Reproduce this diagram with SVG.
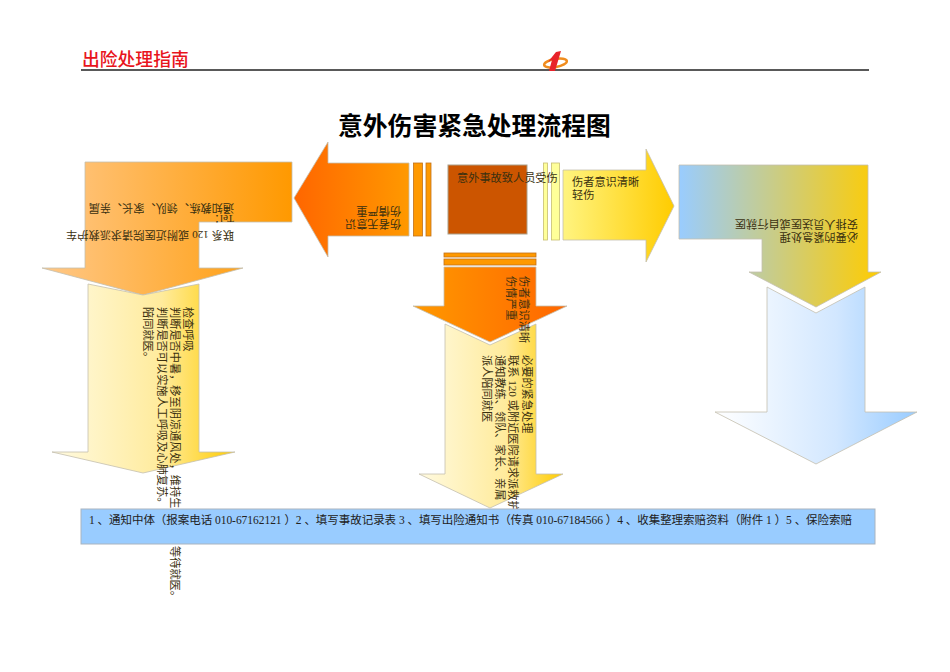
<svg xmlns="http://www.w3.org/2000/svg" width="950" height="672" viewBox="0 0 950 672">
<style>
text{font-family:"Liberation Serif","Noto Sans CJK SC",serif;font-size:11.2px;fill:#3a3010;dominant-baseline:central}
.s{stroke:#c4bfae;stroke-width:.8}
.head{font-size:17.8px;font-weight:500;fill:#e8141c}
.title{font-size:24.8px;font-weight:bold;fill:#000}
.steps{font-size:11.5px;fill:#222}
.bar{fill:#ff9900;stroke:#c0701a;stroke-width:.8}
.ybar{fill:#ffff99;stroke:#c8bf70;stroke-width:.8}
</style>
<defs>
<linearGradient id="gA"><stop offset="0" stop-color="#ffc888"/><stop offset="1" stop-color="#ff9900"/></linearGradient>
<linearGradient id="gB"><stop offset="0" stop-color="#fffae0"/><stop offset=".6" stop-color="#ffeb9c"/><stop offset="1" stop-color="#ffcc00"/></linearGradient>
<linearGradient id="gC"><stop offset="0" stop-color="#ff6600"/><stop offset="1" stop-color="#ff9900"/></linearGradient>
<linearGradient id="gD"><stop offset="0" stop-color="#fff480"/><stop offset="1" stop-color="#ffcc00"/></linearGradient>
<linearGradient id="gE"><stop offset="0" stop-color="#ff9900"/><stop offset="1" stop-color="#ff6600"/></linearGradient>
<linearGradient id="gF"><stop offset="0" stop-color="#99ccff"/><stop offset="1" stop-color="#ffcc00"/></linearGradient>
<linearGradient id="gG"><stop offset="0" stop-color="#ffffff"/><stop offset=".6" stop-color="#d2e7ff"/><stop offset="1" stop-color="#99ccff"/></linearGradient>
</defs>
<rect width="950" height="672" fill="#fff"/>
<g id="header">
<text class="head" x="82" y="60">出险处理指南</text>
<line x1="81" y1="70" x2="869" y2="70" stroke="#222" stroke-width="1.3"/>
<ellipse cx="555.500" cy="63" rx="11.500" ry="4" fill="none" stroke="#f08c1e" stroke-width="2.500" transform="rotate(-10 555.500 63)"/>
<polygon points="556,52 561,51 555,71 549,71 552,60 548,62" fill="#e8232a"/>
<text class="title" x="338" y="126">意外伤害紧急处理流程图</text>
</g>
<g id="connectors">
<rect class="bar" x="413.500" y="163" width="9" height="73"/>
<rect class="bar" x="426" y="163" width="5" height="73"/>
<rect class="ybar" x="543.500" y="163" width="4" height="77"/>
<rect class="ybar" x="551.500" y="163" width="8" height="77"/>
<rect class="bar" x="444" y="253" width="92" height="4"/>
<rect class="bar" x="444" y="259" width="92" height="6"/>
</g>
<g id="node-source">
<rect x="448" y="165" width="79" height="69" fill="#cc5500" stroke="#aaa08a"/>
<text x="457" y="178">意外事故致人员受伤</text>
</g>
<g id="node-unconscious">
<polygon class="s" points="294,198 328,142 328,163 409,163 409,236 328,236 328,257" fill="url(#gC)"/>
<text transform="translate(401,224) rotate(180)">伤者无意识</text>
<text transform="translate(401,211) rotate(180)">伤情严重</text>
</g>
<g id="node-notify-left">
<polygon class="s" points="85,162 292,162 292,222 199,222 199,268 243,268 143,295 42,268 85,268" fill="url(#gA)"/>
<text transform="translate(234,235) rotate(180)">联系 120 或附近医院请求派救护车</text>
<text transform="translate(234,219) rotate(180)">Tel：</text>
<text transform="translate(234,208) rotate(180)">通知教练、领队、家长、亲属</text>
</g>
<g id="node-check">
<polygon class="s" points="88,284 143,295 199,284 199,452 235,452 143,473 52,452 88,452" fill="url(#gB)"/>
<text transform="translate(188,307) rotate(90)">检查呼吸</text>
<text transform="translate(175,307) rotate(90)">判断是否中暑，移至阴凉通风处，维持生</text>
<text transform="translate(175,546) rotate(90)">等待就医。</text>
<text transform="translate(162,307) rotate(90)">判断是否可以实施人工呼吸及心肺复苏。</text>
<text transform="translate(148,307) rotate(90)">陪同就医。</text>
</g>
<g id="node-conscious">
<polygon class="s" points="563,170 646,170 646,149 674,206 646,262 646,240 563,240" fill="url(#gD)"/>
<text x="572" y="182">伤者意识清晰</text>
<text x="572" y="195">轻伤</text>
</g>
<g id="node-handling-right">
<polygon class="s" points="679,165 868,165 868,272 881,272 816,307 749,272 762,272 762,239 679,239" fill="url(#gF)"/>
<text transform="translate(858,237) rotate(180)">必要的紧急处理</text>
<text transform="translate(858,224) rotate(180)">安排人员送医或自行就医</text>
</g>
<g id="node-blue-arrow">
<polygon class="s" points="767,287 816,313 865,287 865,412 917,412 816,464 715,412 767,412" fill="url(#gG)"/>
</g>
<g id="node-yellow-center">
<polygon class="s" points="445,324 490,345 536,324 536,474 563,474 490,508 419,474 445,474" fill="url(#gB)"/>
</g>
<g id="node-serious">
<polygon class="s" points="444,267 536,267 536,306 567,306 490,342 413,306 444,306" fill="url(#gE)"/>
<text transform="translate(524,276) rotate(90)">伤者意识清晰</text>
<text transform="translate(511,276) rotate(90)">伤情严重</text>
</g>
<g id="node-center-text">
<text transform="translate(527,355) rotate(90)">必要的紧急处理</text>
<text transform="translate(513,355) rotate(90)">联系 120 或附近医院请求派救护</text>
<text transform="translate(500,355) rotate(90)">通知教练、领队、家长、亲属</text>
<text transform="translate(487,355) rotate(90)">派人陪同就医</text>
</g>
<g id="node-steps">
<rect x="81" y="509" width="794" height="35" fill="#99ccff" stroke="#a9b4bf"/>
<text class="steps" x="89" y="520" textLength="763" lengthAdjust="spacing">1 、通知中体（报案电话 010-67162121 ）2 、填写事故记录表 3 、填写出险通知书（传真 010-67184566 ）4 、收集整理索赔资料（附件 1 ）5 、保险索赔</text>
</g>
</svg>
